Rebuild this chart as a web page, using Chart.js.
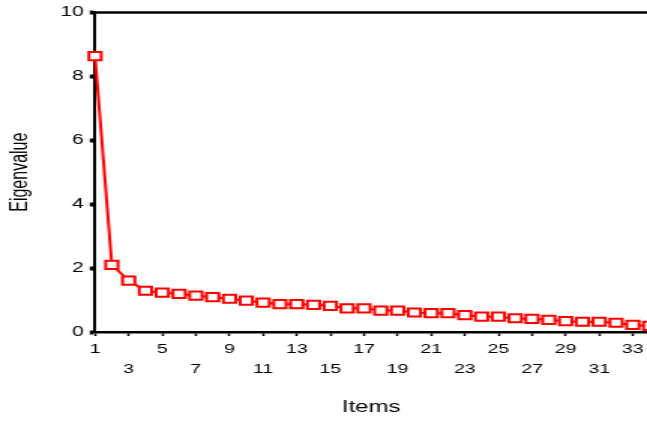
<!DOCTYPE html>
<html lang="en">
<head>
  <script src="https://cdn.jsdelivr.net/npm/chart.js"></script>
  <style>
    html, body { margin: 0; padding: 0; background: #fff; overflow: hidden; width: 647px; height: 421px; }
    /* the original picture is stretched sideways, so draw narrow and widen it;
       the canvas is a bit wider than the window so the plot runs to the right edge */
    #scree { display: block; transform: scaleX(1.5012); transform-origin: 0 0; }
  </style>
</head>
<body>
  <canvas id="scree" width="439" height="421"></canvas>
  <script>
    // data
    const items = [1,2,3,4,5,6,7,8,9,10,11,12,13,14,15,16,17,18,19,20,21,22,23,24,25,26,27,28,29,30,31,32,33,34];
    const eigen = [8.63,2.10,1.61,1.29,1.23,1.19,1.14,1.09,1.04,0.98,0.92,0.87,0.87,0.85,0.82,0.74,0.74,0.67,0.67,0.61,0.59,0.59,0.53,0.48,0.48,0.43,0.41,0.38,0.34,0.32,0.32,0.29,0.22,0.19];
    const xTicks = [1,3,5,7,9,11,13,15,17,19,21,23,25,27,29,31,33];
    const yTicks = [0,2,4,6,8,10];

    const topLine = {
      id: 'topLine',
      afterDraw(chart) {
        const a = chart.chartArea, c = chart.ctx;
        c.save();
        c.strokeStyle = '#000';
        c.lineWidth = 2.5;
        c.beginPath();
        c.moveTo(a.left - 1, a.top);
        c.lineTo(chart.width, a.top);
        c.stroke();
        c.restore();
      }
    };

    new Chart(document.getElementById('scree'), {
      type: 'line',
      data: {
        datasets: [{
          data: items.map((x, i) => ({ x: x, y: eigen[i] })),
          borderColor: '#ff0000',
          borderWidth: 2,
          pointStyle: 'rect',
          pointRadius: 5.8,
          pointBorderWidth: 2,
          pointBorderColor: '#ff0000',
          pointBackgroundColor: '#fff',
          clip: false,
          tension: 0
        }]
      },
      options: {
        responsive: false,
        animation: false,
        devicePixelRatio: 1,
        layout: { padding: { top: 10.6, right: 0, left: 0, bottom: 0 } },
        plugins: { legend: { display: false }, tooltip: { enabled: false } },
        scales: {
          x: {
            type: 'linear',
            min: 1,
            max: 33.86,
            afterBuildTicks: s => { s.ticks = xTicks.map(v => ({ value: v })); },
            afterFit: s => { s.height = 89; },
            border: { color: '#000', width: 2.5 },
            grid: { drawOnChartArea: false, color: '#000', tickLength: 4, tickWidth: 1.5 },
            ticks: {
              color: '#000',
              padding: 4,
              maxRotation: 0,
              autoSkip: false,
              font: { family: '"Liberation Sans", Arial, sans-serif', size: 13, lineHeight: 1.5 },
              callback: (v, i) => i % 2 === 0 ? String(v) : ['', String(v)]
            },
            title: {
              display: true,
              text: 'Items',
              color: '#000',
              padding: { top: 0, bottom: 4 },
              font: { family: '"Liberation Sans", Arial, sans-serif', size: 16 }
            }
          },
          y: {
            min: 0,
            max: 10,
            afterBuildTicks: s => { s.ticks = yTicks.map(v => ({ value: v })); },
            afterFit: s => { s.width = 63.3; },
            border: { color: '#000', width: 2 },
            grid: { drawOnChartArea: false, color: '#000', tickLength: 3.5, tickWidth: 4 },
            ticks: {
              color: '#000',
              padding: 4,
              font: { family: '"Liberation Sans", Arial, sans-serif', size: 14 }
            },
            title: {
              display: true,
              text: 'Eigenvalue',
              color: '#000',
              padding: { top: 3.7, bottom: 0 },
              font: { family: '"Liberation Sans", Arial, sans-serif', size: 16 }
            }
          }
        }
      },
      plugins: [topLine]
    });
  </script>
</body>
</html>
